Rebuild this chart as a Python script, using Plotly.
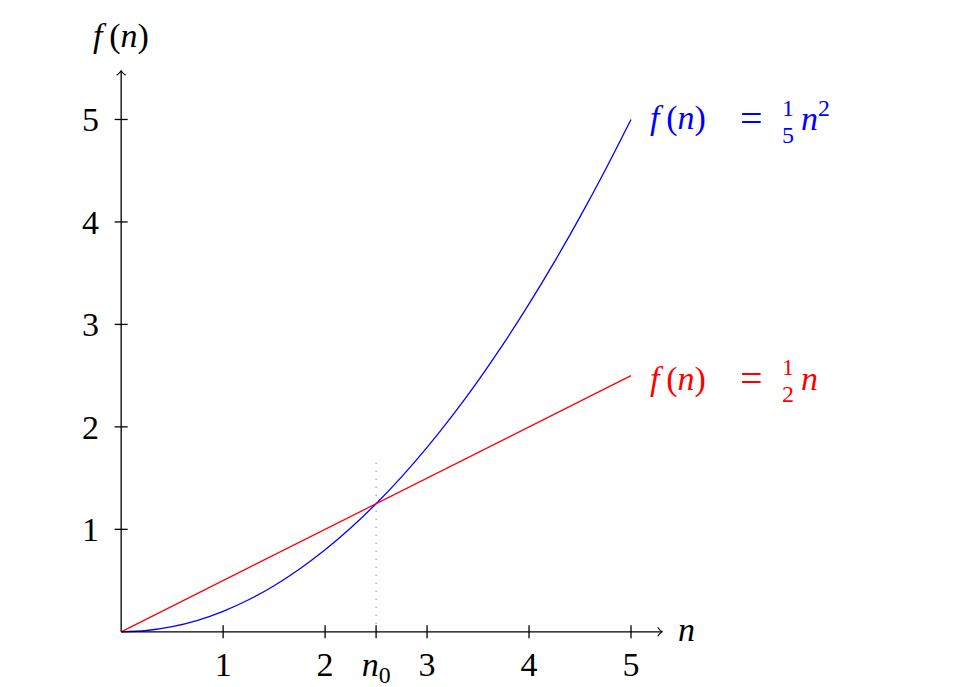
import plotly.graph_objects as go

# ---- data ----
n_vals = [0, 0.25, 0.5, 0.75, 1.0, 1.25, 1.5, 1.75, 2.0, 2.25, 2.5, 2.75, 3.0,
          3.25, 3.5, 3.75, 4.0, 4.25, 4.5, 4.75, 5.0]
quad_vals = [0, 0.0125, 0.05, 0.1125, 0.2, 0.3125, 0.45, 0.6125, 0.8, 1.0125, 1.25,
             1.5125, 1.8, 2.1125, 2.45, 2.8125, 3.2, 3.6125, 4.05, 4.5125, 5.0]
lin_n = [0, 5]
lin_vals = [0, 2.5]
n0 = 2.5
n0_line_top = 1.7
x_tickvals = [1, 2, 2.5, 3, 4, 5]
x_ticktext = ["1", "2", "<i>n</i><sub>0</sub>", "3", "4", "5"]
y_tickvals = [1, 2, 3, 4, 5]
y_ticktext = ["1", "2", "3", "4", "5"]
x_axis_end = 5.3
y_axis_end = 5.47

BLUE = "#0000ff"
RED = "#ff0000"
FONT = "Liberation Serif"
FS = 34
FRAC = 24
FN = "<i>f</i>\u2009(<i>n</i>)"

fig = go.Figure()
fig.add_trace(go.Scatter(x=n_vals, y=quad_vals, mode="lines",
                         line=dict(color=BLUE, width=1.3, shape="spline"),
                         hoverinfo="skip", showlegend=False))
fig.add_trace(go.Scatter(x=lin_n, y=lin_vals, mode="lines",
                         line=dict(color=RED, width=1.3),
                         hoverinfo="skip", showlegend=False))

def pix_path(xa, ya, path, color="black", width=1.3):
    return dict(type="path", xref="x", yref="y", xsizemode="pixel", ysizemode="pixel",
                xanchor=xa, yanchor=ya, path=path, line=dict(color=color, width=width))

shapes = []
# dotted n0 line
shapes.append(dict(type="line", xref="x", yref="y", x0=n0, x1=n0, y0=0, y1=n0_line_top,
                   line=dict(color="#707070", width=1.2, dash="1px,7px"), layer="below"))
# axes
shapes.append(dict(type="line", xref="x", yref="y", x0=0, x1=x_axis_end, y0=0, y1=0,
                   line=dict(color="black", width=1.3)))
shapes.append(dict(type="line", xref="x", yref="y", x0=0, x1=0, y0=0, y1=y_axis_end,
                   line=dict(color="black", width=1.3)))
# arrow heads
shapes.append(pix_path(x_axis_end, 0, "M-4,4.5 Q-1.5,1 0.5,0 Q-1.5,-1 -4,-4.5", width=1.1))
shapes.append(pix_path(0, y_axis_end, "M-4.5,-4 Q-1,-1.5 0,0.5 Q1,-1.5 4.5,-4", width=1.1))
# tick marks crossing the axes
for t in x_tickvals:
    shapes.append(pix_path(t, 0, "M0,-6.5 L0,6.5"))
for t in y_tickvals:
    shapes.append(pix_path(0, t, "M-6.5,0 L6.5,0"))
# fraction bars
shapes.append(pix_path(5, 5, "M149,-2 L166,-2", color=BLUE, width=1.2))
shapes.append(pix_path(5, 2.5, "M149,-4 L166,-4", color=RED, width=1.2))

ann = []
def A(text, x, y, xshift=0, yshift=0, color="black", size=FS, xanchor="center"):
    ann.append(dict(text=text, x=x, y=y, xref="x", yref="y", xshift=xshift, yshift=yshift,
                    showarrow=False, xanchor=xanchor, yanchor="middle",
                    font=dict(family=FONT, size=size, color=color)))

# axis labels
A(FN, 0, y_axis_end, yshift=35)
A("<i>n</i>", x_axis_end, 0, xshift=25, yshift=2)
# blue label
A(FN, 5, 5, xshift=17, yshift=1, color=BLUE, xanchor="left")
A("=", 5, 5, xshift=120, yshift=1, color=BLUE, size=40)
A("1", 5, 5, xshift=157, yshift=11, color=BLUE, size=FRAC)
A("5", 5, 5, xshift=157, yshift=-16, color=BLUE, size=FRAC)
A("<i>n</i><sup>2</sup>", 5, 5, xshift=168, yshift=3, color=BLUE, xanchor="left")
# red label
A(FN, 5, 2.5, xshift=17, yshift=-3, color=RED, xanchor="left")
A("=", 5, 2.5, xshift=120, yshift=-3, color=RED, size=40)
A("1", 5, 2.5, xshift=157, yshift=9, color=RED, size=FRAC)
A("2", 5, 2.5, xshift=157, yshift=-18, color=RED, size=FRAC)
A("<i>n</i>", 5, 2.5, xshift=168, yshift=-3, color=RED, xanchor="left")

# page body has an 8px margin, so the figure is drawn 8px smaller and offset
fig.update_layout(
    width=970, height=679,
    margin=dict(l=105, r=296, t=50, b=47, autoexpand=False),
    paper_bgcolor="white", plot_bgcolor="white",
    shapes=shapes, annotations=ann,
    font=dict(family=FONT, size=FS, color="black"),
    xaxis=dict(range=[-0.08, 5.5], showgrid=False, zeroline=False, showline=False,
               tickvals=x_tickvals, ticktext=x_ticktext, ticks="",
               ticklabelstandoff=1, automargin=False, fixedrange=True),
    yaxis=dict(range=[-0.08, 5.6], showgrid=False, zeroline=False, showline=False,
               tickvals=y_tickvals, ticktext=y_ticktext, ticks="",
               ticklabelstandoff=13, automargin=False, fixedrange=True),
)
fig.write_html("out.html")
